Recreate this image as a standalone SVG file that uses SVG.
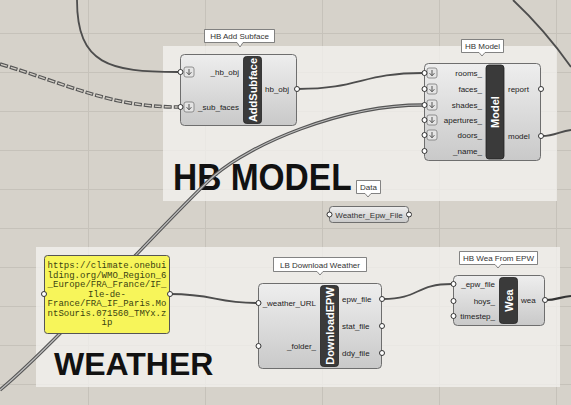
<svg xmlns="http://www.w3.org/2000/svg" xmlns:xlink="http://www.w3.org/1999/xlink" width="571" height="405" viewBox="0 0 571 405">
<defs>
<linearGradient id="gb" x1="0" y1="0" x2="0" y2="1">
<stop offset="0" stop-color="#eeeeee"/>
<stop offset="1" stop-color="#c9c9c9"/>
</linearGradient>
<g id="arr">
<rect x="0" y="0" width="10" height="10" rx="2" fill="#e4e4e4" stroke="#7a7a7a" stroke-width="0.8"/>
<path d="M5 2V7.6M2.6 5.2L5 7.8L7.4 5.2" fill="none" stroke="#555" stroke-width="1"/>
</g>
</defs>
<style>
.body{fill:url(#gb);stroke:#6e6e6e;stroke-width:1}
.bar{fill:#3a3a3a;stroke:#222;stroke-width:0.8}
.bt{font-family:"Liberation Sans",Arial,sans-serif;font-weight:bold;font-size:11px;fill:#fff}
.lbl{font-family:"Liberation Sans",Arial,sans-serif;font-size:8px;fill:#222}
.r{text-anchor:end}
.grip{fill:#fff;stroke:#333;stroke-width:1}
.tip{fill:#fff;stroke:#666;stroke-width:0.8}
.tt{font-family:"Liberation Sans",Arial,sans-serif;font-size:8px;fill:#333;text-anchor:middle}
.w{fill:none;stroke:#4d4d4d;stroke-width:1.8}
.big{font-family:"Liberation Sans",Arial,sans-serif;font-weight:bold;fill:#111}
.pt{font-family:"Liberation Mono","Courier New",monospace;font-size:9px;fill:#3a4210;text-anchor:middle}
.grp{fill:#f4f3f0;fill-opacity:0.75}
.grid{stroke:#c6c2ba;stroke-width:1}
</style>
<rect width="571" height="405" fill="#d6d2ca"/>
<g id="grid" class="grid">
<path d="M0 33.5H571M0 72.5H571M0 111.5H571M0 150.5H571M0 189.5H571M0 228.5H571M0 267.5H571M0 306.5H571M0 345.5H571M0 384.5H571"/>
<path d="M88.5 0V405M205.5 0V405M322.5 0V405M439.5 0V405M556.5 0V405"/>
</g>
<g id="group-model">
<rect class="grp" x="163" y="46" width="394" height="155"/>
<text class="big" transform="translate(173 190) scale(1 1.1)" font-size="33.5">HB MODEL</text>
</g>
<g id="group-weather">
<rect class="grp" x="36" y="247" width="524" height="140"/>
<text class="big" x="54" y="375" font-size="32">WEATHER</text>
</g>
<g id="connectors">
<path class="w" d="M77 0C77 65 110 72 178 72"/>
<path d="M0 64C70 85 110 107 178 107" fill="none" stroke="#555" stroke-width="3.6" stroke-dasharray="8 2"/>
<path d="M0 64C70 85 110 107 178 107" fill="none" stroke="#d2cec6" stroke-width="1.4" stroke-dasharray="6 4" stroke-dashoffset="-1"/>
<path class="w" d="M298 89C360 89 362 73 423 73"/>
<path d="M0 390C60 340 180 205 215 175C250 145 340 105 423 105" fill="none" stroke="#555" stroke-width="3.4"/>
<path d="M0 390C60 340 180 205 215 175C250 145 340 105 423 105" fill="none" stroke="#bdbdbd" stroke-width="1.2"/>
<path class="w" d="M513 0Q545 30 571 67"/>
<path class="w" d="M542 136C555 136 560 131 571 130"/>
<path class="w" d="M170 294C215 294 215 303 257 303"/>
<path class="w" d="M383 299C420 299 415 284 452 284"/>
<path d="M546 300C556 300 560 297 571 296" fill="none" stroke="#333" stroke-width="2.2"/>
</g>
<g id="hb-add-subface">
<path class="tip" d="M204.5 29.5H274.5V42.5H243L240 47L237 42.5H204.5Z"/>
<text class="tt" x="239.5" y="39">HB Add Subface</text>
<rect class="body" x="180.5" y="54.5" width="116" height="71" rx="4"/>
<rect class="bar" x="243.5" y="56.5" width="18" height="67" rx="3"/>
<text class="bt" transform="translate(252.5 90) rotate(-90)" text-anchor="middle" dy="4">AddSubface</text>
<use xlink:href="#arr" x="184" y="67"/>
<use xlink:href="#arr" x="184" y="102"/>
<text class="lbl r" x="239" y="75">_hb_obj</text>
<text class="lbl r" x="239" y="110">_sub_faces</text>
<text class="lbl" x="265" y="92">hb_obj</text>
<circle class="grip" cx="180.5" cy="72" r="2.5"/>
<circle class="grip" cx="180.5" cy="107" r="2.5"/>
<circle class="grip" cx="297" cy="89" r="2.5"/>
</g>
<g id="hb-model">
<path class="tip" d="M461.5 39.5H503.5V52.5H485L482 56L479 52.5H461.5Z"/>
<text class="tt" x="482.5" y="49">HB Model</text>
<rect class="body" x="424.5" y="63.5" width="116" height="97" rx="4"/>
<rect class="bar" x="486" y="65" width="18" height="94" rx="3"/>
<text class="bt" transform="translate(495 112) rotate(-90)" text-anchor="middle" dy="4">Model</text>
<use xlink:href="#arr" x="427" y="68"/>
<use xlink:href="#arr" x="427" y="84"/>
<use xlink:href="#arr" x="427" y="100"/>
<use xlink:href="#arr" x="427" y="115"/>
<use xlink:href="#arr" x="427" y="130"/>
<text class="lbl r" x="482" y="76">rooms_</text>
<text class="lbl r" x="482" y="92">faces_</text>
<text class="lbl r" x="482" y="108">shades_</text>
<text class="lbl r" x="482" y="123">apertures_</text>
<text class="lbl r" x="482" y="138">doors_</text>
<text class="lbl r" x="482" y="154">_name_</text>
<text class="lbl" x="508" y="92">report</text>
<text class="lbl" x="508" y="139">model</text>
<circle class="grip" cx="424.5" cy="73" r="2.5"/>
<circle class="grip" cx="424.5" cy="89" r="2.5"/>
<circle class="grip" cx="424.5" cy="105" r="2.5"/>
<circle class="grip" cx="424.5" cy="120" r="2.5"/>
<circle class="grip" cx="424.5" cy="135" r="2.5"/>
<circle class="grip" cx="424.5" cy="151" r="2.5"/>
<circle class="grip" cx="541" cy="89" r="2.5"/>
<circle class="grip" cx="541" cy="136" r="2.5"/>
</g>
<g id="data-param">
<path class="tip" d="M356.5 180.5H380.5V193.5H371L368 197L365 193.5H356.5Z"/>
<text class="tt" x="368.5" y="190">Data</text>
<rect class="body" x="329.5" y="206.5" width="79" height="16" rx="3"/>
<text class="tt" x="369" y="217.5" fill="#222">Weather_Epw_File</text>
<circle class="grip" cx="329.5" cy="214.5" r="2.5"/>
<circle class="grip" cx="409" cy="214.5" r="2.5"/>
</g>
<g id="url-panel">
<rect x="44.5" y="255.5" width="125" height="78" rx="3" fill="#f7f55a" stroke="#555" stroke-width="1"/>
<text class="pt" x="107" y="268">https://climate.onebui</text>
<text class="pt" x="107" y="277.5">lding.org/WMO_Region_6</text>
<text class="pt" x="107" y="287">_Europe/FRA_France/IF_</text>
<text class="pt" x="107" y="296.5">Ile-de-</text>
<text class="pt" x="107" y="306">France/FRA_IF_Paris.Mo</text>
<text class="pt" x="107" y="315.5">ntSouris.071560_TMYx.z</text>
<text class="pt" x="107" y="325">ip</text>
<circle class="grip" cx="44" cy="294" r="2.5"/>
<circle class="grip" cx="170" cy="294" r="2.5"/>
</g>
<g id="lb-download-weather">
<path class="tip" d="M273.5 257.5H366.5V271.5H323L320 275L317 271.5H273.5Z"/>
<text class="tt" x="320" y="267.5">LB Download Weather</text>
<rect class="body" x="258.5" y="283.5" width="123" height="85" rx="4"/>
<rect class="bar" x="320.5" y="285.5" width="18" height="81" rx="3"/>
<text class="bt" font-size="10.5" transform="translate(329.5 326) rotate(-90)" text-anchor="middle" dy="4">DownloadEPW</text>
<text class="lbl r" x="316" y="306">_weather_URL</text>
<text class="lbl r" x="316" y="349">_folder_</text>
<text class="lbl" x="342" y="302">epw_file</text>
<text class="lbl" x="342" y="329">stat_file</text>
<text class="lbl" x="342" y="356">ddy_file</text>
<circle class="grip" cx="258.5" cy="303" r="2.5"/>
<circle class="grip" cx="258.5" cy="346" r="2.5"/>
<circle class="grip" cx="382" cy="299" r="2.5"/>
<circle class="grip" cx="382" cy="326" r="2.5"/>
<circle class="grip" cx="382" cy="353" r="2.5"/>
</g>
<g id="hb-wea-from-epw">
<path class="tip" d="M459.5 251.5H537.5V264.5H501L498 268L495 264.5H459.5Z"/>
<text class="tt" x="498.5" y="261">HB Wea From EPW</text>
<rect class="body" x="453.5" y="275.5" width="91" height="50" rx="4"/>
<rect class="bar" x="499.5" y="277.5" width="18" height="46" rx="3"/>
<text class="bt" font-size="11.5" transform="translate(508.5 300.5) rotate(-90)" text-anchor="middle" dy="4">Wea</text>
<text class="lbl r" x="495" y="287">_epw_file</text>
<text class="lbl r" x="495" y="304">hoys_</text>
<text class="lbl r" x="495" y="319">timestep_</text>
<text class="lbl" x="521" y="303">wea</text>
<circle class="grip" cx="453.5" cy="284" r="2.5"/>
<circle class="grip" cx="453.5" cy="301" r="2.5"/>
<circle class="grip" cx="453.5" cy="316" r="2.5"/>
<circle class="grip" cx="545" cy="300" r="2.5"/>
</g>
</svg>
